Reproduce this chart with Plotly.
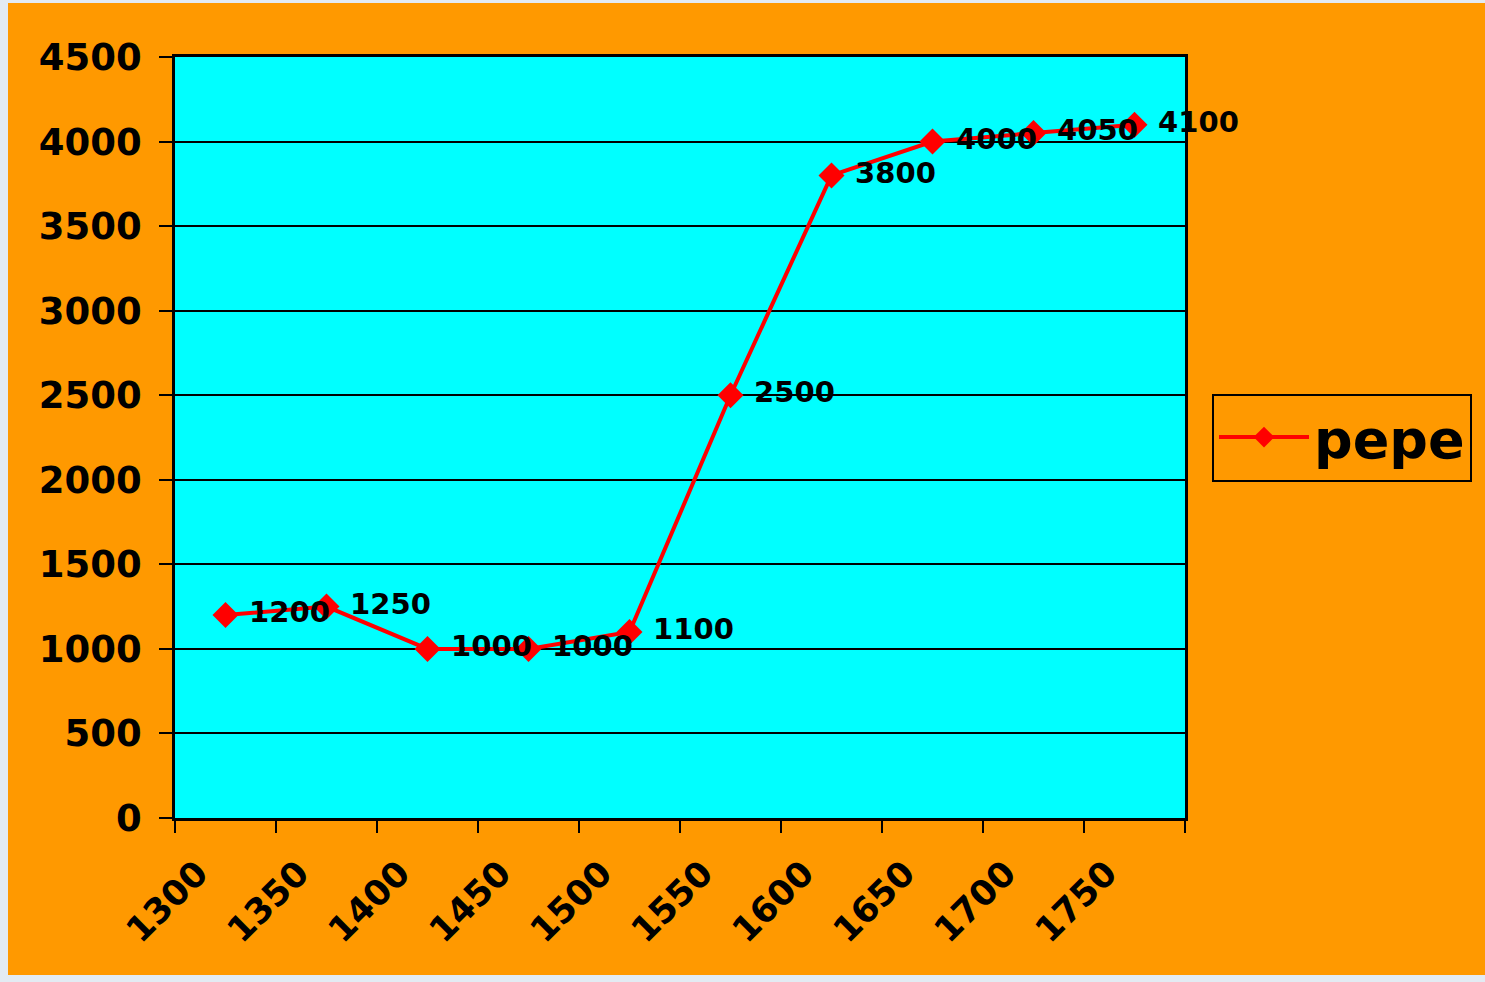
import plotly.graph_objects as go

categories = ["1300", "1350", "1400", "1450", "1500", "1550", "1600", "1650", "1700", "1750"]
values = [1200, 1250, 1000, 1000, 1100, 2500, 3800, 4000, 4050, 4100]
series_name = "pepe"
y_ticks = [0, 500, 1000, 1500, 2000, 2500, 3000, 3500, 4000, 4500]

W, H = 1485, 982
L, R, T, B = 175, 300, 57, 164
pw, ph = W - L - R, H - T - B

def px_x(p):
    return (p - L) / pw

def px_y(p):
    return (H - B - p) / ph

FONT = "DejaVu Sans"

fig = go.Figure()
fig.add_trace(go.Scatter(
    x=categories, y=values, name=series_name,
    mode="lines+markers+text",
    text=[" " + str(v) for v in values],
    textposition="middle right",
    textfont=dict(family=FONT, size=29, color="black", weight="bold"),
    line=dict(color="#FF0000", width=4),
    marker=dict(symbol="diamond", size=20, color="#FF0000"),
    cliponaxis=False,
))

fig.update_layout(
    width=W, height=H,
    margin=dict(l=L, r=R, t=T, b=B, pad=0, autoexpand=False),
    paper_bgcolor="#E3EBF3",
    plot_bgcolor="rgba(0,0,0,0)",
    showlegend=True,
    legend=dict(
        x=px_x(1212), y=px_y(437.5), xanchor="left", yanchor="middle",
        bordercolor="black", borderwidth=2, bgcolor="rgba(0,0,0,0)",
        itemwidth=90,
        font=dict(family=FONT, size=54, color="black", weight="bold"),
    ),
    shapes=[
        dict(type="rect", xref="paper", yref="paper", layer="below",
             x0=px_x(8), x1=px_x(1490), y0=px_y(975), y1=px_y(3),
             fillcolor="#FF9900", line=dict(width=0)),
        dict(type="rect", xref="x domain", yref="y domain", layer="below",
             x0=0, x1=1, y0=0, y1=1, fillcolor="#00FFFF", line=dict(width=0)),
    ],
    xaxis=dict(
        type="category", tickson="boundaries", range=[-0.5, 9.5],
        ticks="outside", ticklen=12, tickwidth=2, tickcolor="black",
        showline=True, linecolor="black", linewidth=2.5, mirror=True,
        showgrid=False, tickangle=-45,
        ticklabelshift=-28, ticklabelstandoff=18,
        tickfont=dict(family=FONT, size=35, color="black", weight="bold"),
    ),
    yaxis=dict(
        range=[0, 4500], tickvals=y_ticks, ticktext=[str(v) for v in y_ticks],
        ticks="outside", ticklen=13, tickwidth=2, tickcolor="black",
        showline=True, linecolor="black", linewidth=2.5, mirror=True,
        showgrid=True, gridcolor="black", gridwidth=2, zeroline=False,
        ticklabelstandoff=10,
        tickfont=dict(family=FONT, size=37, color="black", weight="bold"),
    ),
)

fig.write_html(
    "out.html",
    config={"displayModeBar": False},
    post_script="document.body.style.margin='0';document.body.style.background='#E3EBF3';document.body.style.overflow='hidden';",
)
